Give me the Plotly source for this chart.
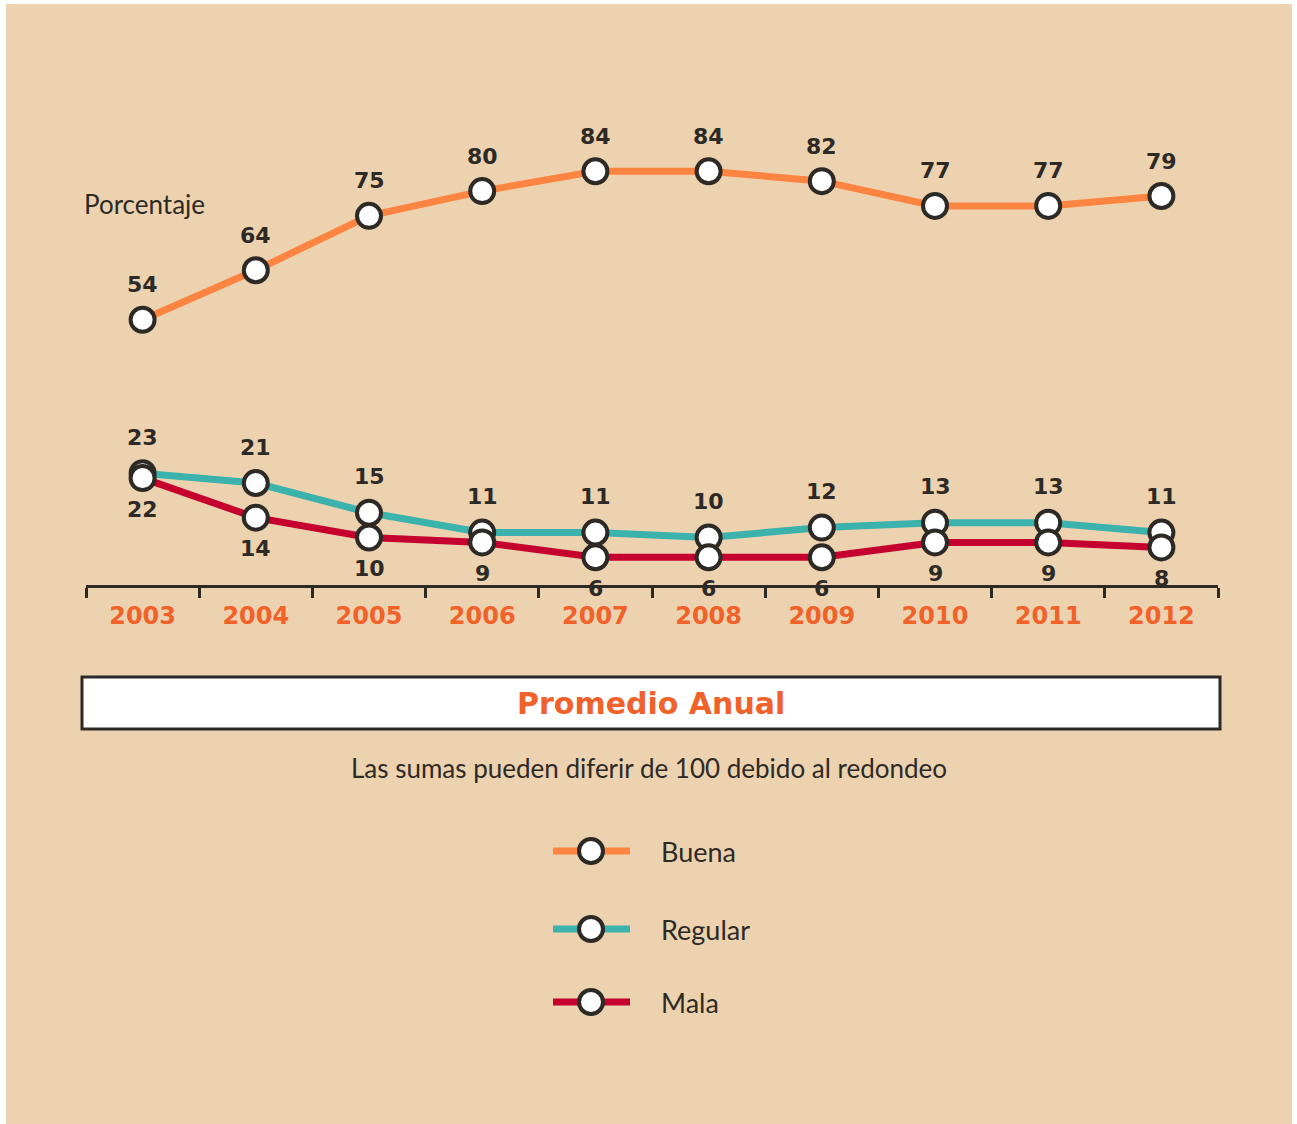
import plotly.graph_objects as go

years = ["2003", "2004", "2005", "2006", "2007", "2008", "2009", "2010", "2011", "2012"]
buena = [54, 64, 75, 80, 84, 84, 82, 77, 77, 79]
regular = [23, 21, 15, 11, 11, 10, 12, 13, 13, 11]
mala = [22, 14, 10, 9, 6, 6, 6, 9, 9, 8]

series_names = ["Buena", "Regular", "Mala"]
series_colors = ["#fd8441", "#3bb2ac", "#c5002f"]

W, H = 1297, 1124
L, R, T, B = 86, 1218, 100, 585
DARK = "#2d2a26"
BEIGE = "#edd2b0"
ORANGE = "#f0622a"
BOLD = "DejaVu Sans, sans-serif"
NARROW = "Lato, Roboto, sans-serif"


def px(x):
    return (x - L) / (R - L)


def py(y):
    return (B - y) / (B - T)


xs = list(range(len(years)))
fig = go.Figure()
for name, vals, col in zip(series_names, [buena, regular, mala], series_colors):
    fig.add_trace(go.Scatter(
        x=xs, y=vals, mode="lines+markers", name=name, showlegend=False,
        line=dict(color=col, width=7),
        marker=dict(size=24, color="white", line=dict(color=DARK, width=4)),
        hoverinfo="skip",
    ))

annotations = []
for vals, shift in [(buena, 35), (regular, 36), (mala, -31)]:
    for i, v in enumerate(vals):
        annotations.append(dict(
            x=i, y=v, xref="x", yref="y", text=f"<b>{v}</b>", showarrow=False,
            yshift=shift, font=dict(family=BOLD, size=22, color=DARK),
        ))

annotations += [
    dict(x=px(82), y=py(204), xref="paper", yref="paper", xanchor="left", yanchor="middle",
         text="Porcentaje", showarrow=False,
         font=dict(family=NARROW, size=26, color=DARK)),
    dict(x=px(651), y=py(703), xref="paper", yref="paper", xanchor="center", yanchor="middle",
         text="<b>Promedio Anual</b>", showarrow=False, font=dict(family=BOLD, size=30, color=ORANGE)),
    dict(x=px(649), y=py(768), xref="paper", yref="paper", xanchor="center", yanchor="middle",
         text="Las sumas pueden diferir de 100 debido al redondeo",
         showarrow=False, font=dict(family=NARROW, size=26, color=DARK)),
]

shapes = [
    dict(type="rect", xref="paper", yref="paper", x0=px(6), x1=px(1292), y0=py(4), y1=py(1124),
         fillcolor=BEIGE, line=dict(width=0), layer="below"),
    dict(type="rect", xref="paper", yref="paper", x0=px(82), x1=px(1220), y0=py(677), y1=py(729),
         fillcolor="white", line=dict(color=DARK, width=3), layer="below"),
]

leg_y = [851, 929, 1002]
for name, col, ly in zip(series_names, series_colors, leg_y):
    shapes.append(dict(type="line", xref="paper", yref="paper", x0=px(553), x1=px(630),
                       y0=py(ly), y1=py(ly), line=dict(color=col, width=7)))
    shapes.append(dict(type="circle", xref="paper", yref="paper", xsizemode="pixel", ysizemode="pixel",
                       xanchor=px(591), yanchor=py(ly), x0=-12, x1=12, y0=-12, y1=12,
                       fillcolor="white", line=dict(color=DARK, width=4)))
    annotations.append(dict(x=px(659), y=py(ly), xref="paper", yref="paper", xanchor="left",
                            yanchor="middle", text=name, showarrow=False,
                            font=dict(family=NARROW, size=27, color=DARK)))

fig.update_layout(
    width=W, height=H,
    margin=dict(l=L, r=W - R, t=T, b=H - B),
    paper_bgcolor="white", plot_bgcolor="rgba(0,0,0,0)",
    showlegend=False,
    shapes=shapes, annotations=annotations,
    xaxis=dict(range=[-0.5, 9.5], tickmode="array", tickvals=xs, ticktext=[f"<b>{y}</b>" for y in years],
               ticks="", showgrid=False, zeroline=False, showline=True, linewidth=3, linecolor=DARK,
               tickfont=dict(family=BOLD, size=24, color=ORANGE), ticklabelstandoff=7,
               minor=dict(tickmode="array", tickvals=[i - 0.5 for i in range(len(years) + 1)],
                          ticks="outside", ticklen=10, tickwidth=3, tickcolor=DARK, showgrid=False),
               fixedrange=True),
    yaxis=dict(range=[0.4, 98.4], visible=False, fixedrange=True),
)

fig.write_html("out.html", config={"displayModeBar": False},
               post_script="document.body.style.margin='0';")
